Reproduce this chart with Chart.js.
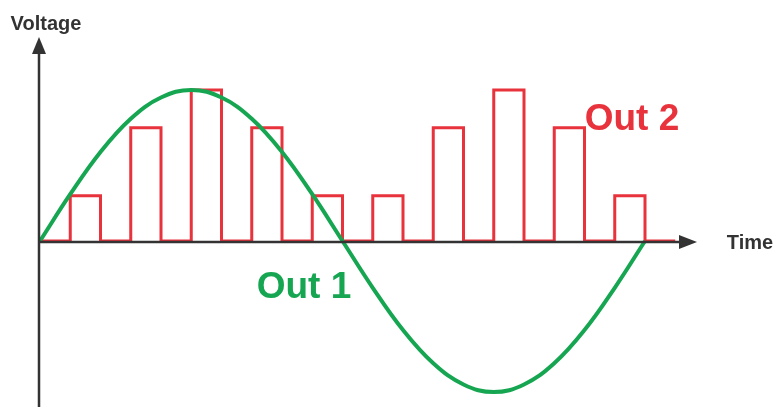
<!DOCTYPE html>
<html>
<head>
<meta charset="utf-8">
<script src="https://cdn.jsdelivr.net/npm/chart.js@4.4.1/dist/chart.umd.min.js"></script>
<style>
  html, body { margin: 0; padding: 0; background: #fff; }
  #wrap { width: 774px; height: 407px; }
</style>
</head>
<body>
<div id="wrap"><canvas id="waves"></canvas></div>
<script>
// time steps (one step = half a pulse period)
var sineTimes = [0, 1, 2, 3, 4, 5, 6, 7, 8, 9, 10, 11, 12, 13, 14, 15, 16, 17, 18, 19, 20];
// Out 1 (peak = 1)
var out1Values = [0, 0.31, 0.59, 0.81, 0.95, 1.0, 0.95, 0.81, 0.59, 0.31, 0, -0.31, -0.59, -0.81, -0.95, -1.0, -0.95, -0.81, -0.59, -0.31, 0];

// Out 2, stepped pulses: level held from each time until the next one
var stepTimes = [0, 1, 2, 3, 4, 5, 6, 7, 8, 9, 10, 11, 12, 13, 14, 15, 16, 17, 18, 19, 20, 21];
var out2Levels = [0, 0.3, 0, 0.75, 0, 1.0, 0, 0.75, 0, 0.3, 0, 0.3, 0, 0.75, 0, 1.0, 0, 0.75, 0, 0.3, 0, 0];

var labels = { y: 'Voltage', x: 'Time', out1: 'Out 1', out2: 'Out 2' };

var green = 'rgb(22,166,82)';
var red = 'rgb(232,50,60)';
var axisColor = '#333333';

function toXY(xs, ys) {
  var pts = [];
  for (var i = 0; i < xs.length; i++) pts.push({ x: xs[i], y: ys[i] });
  return pts;
}

var axesPlugin = {
  id: 'axesPlugin',
  afterDatasetsDraw: function (chart) {
    var c = chart.ctx;
    var xs = chart.scales.x, ys = chart.scales.y;
    var x0 = xs.getPixelForValue(0) - 1;
    var y0 = ys.getPixelForValue(0) + 1;
    c.save();
    c.strokeStyle = axisColor;
    c.fillStyle = axisColor;
    c.lineWidth = 2.5;
    // vertical axis
    c.beginPath();
    c.moveTo(x0, 407);
    c.lineTo(x0, 50);
    c.stroke();
    c.beginPath();
    c.moveTo(x0, 37);
    c.lineTo(x0 - 7, 54);
    c.lineTo(x0 + 7, 54);
    c.closePath();
    c.fill();
    // horizontal axis
    c.beginPath();
    c.moveTo(x0, y0);
    c.lineTo(684, y0);
    c.stroke();
    c.beginPath();
    c.moveTo(697, y0);
    c.lineTo(679, y0 - 7);
    c.lineTo(679, y0 + 7);
    c.closePath();
    c.fill();
    // text
    c.textBaseline = 'middle';
    c.textAlign = 'center';
    c.font = 'bold 20px "Liberation Sans", Arial, sans-serif';
    c.fillText(labels.y, 46, 24);
    c.fillText(labels.x, 750, 243);
    c.font = 'bold 37px "Liberation Sans", Arial, sans-serif';
    c.fillStyle = green;
    c.fillText(labels.out1, 304, 288);
    c.fillStyle = red;
    c.fillText(labels.out2, 632, 120);
    c.restore();
  }
};

var ctx = document.getElementById('waves').getContext('2d');
var chart = new Chart(ctx, {
  type: 'line',
  data: {
    datasets: [{
      label: labels.out1,
      data: toXY(sineTimes, out1Values),
      borderColor: green,
      borderWidth: 4,
      pointRadius: 0,
      tension: 0.4,
      fill: false,
      order: 1
    }, {
      label: labels.out2,
      data: toXY(stepTimes, out2Levels),
      borderColor: red,
      borderWidth: 3,
      pointRadius: 0,
      stepped: 'before',
      fill: false,
      order: 2
    }]
  },
  options: {
    responsive: true,
    maintainAspectRatio: false,
    animation: false,
    layout: { padding: 0 },
    plugins: { legend: { display: false }, tooltip: { enabled: false } },
    scales: {
      x: { type: 'linear', display: false, min: -40 / 30.25, max: 734 / 30.25 },
      y: { type: 'linear', display: false, min: -166 / 151, max: 241 / 151 }
    }
  },
  plugins: [axesPlugin]
});
</script>
</body>
</html>
